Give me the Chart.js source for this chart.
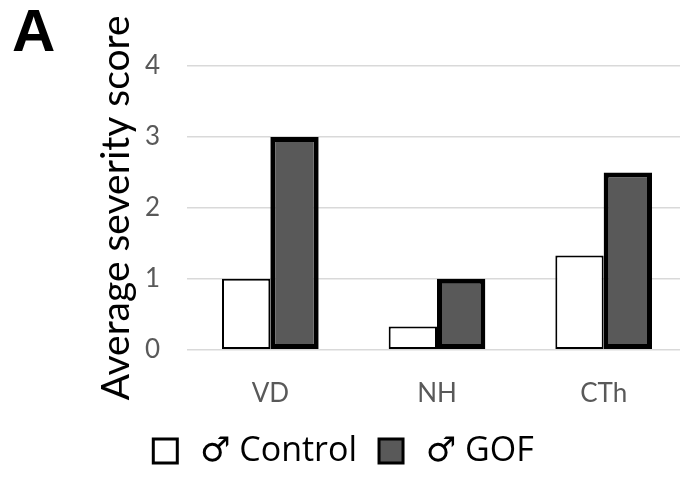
<!DOCTYPE html>
<html>
<head>
<meta charset="utf-8">
<script src="https://cdn.jsdelivr.net/npm/chart.js@4"></script>
<style>
  html, body { margin: 0; padding: 0; background: #fff; overflow: hidden; }
  #wrap { position: relative; width: 700px; height: 477px; }
  #panel {
    position: absolute; left: 12px; top: -4px;
    font: bold 60px "Liberation Sans", Arial, sans-serif; color: #000;
  }
</style>
</head>
<body>
<div id="wrap">
  <canvas id="grafico" width="700" height="477"></canvas>
  <div id="panel">A</div>
</div>
<script>
// datos
const categorias = ["VD", "NH", "CTh"];
const valoresControl = [1, 0.33, 1.33];
const valoresGOF = [3, 1, 2.5];
const ticksY = [0, 1, 2, 3, 4];

const FUENTE = "Lato, 'Open Sans', sans-serif";

const ctx = document.getElementById("grafico").getContext("2d");

new Chart(ctx, {
    type: "bar",
    data: {
        labels: categorias,
        datasets: [
            {
                label: "\u2642 Control",
                data: valoresControl,
                backgroundColor: "#ffffff",
                borderColor: "#000000",
                borderWidth: 2,
                borderSkipped: false
            },
            {
                label: "\u2642 GOF",
                data: valoresGOF,
                backgroundColor: "#595959",
                borderColor: "#000000",
                borderWidth: 5,
                borderSkipped: false
            }
        ]
    },
    options: {
        responsive: false,
        animation: false,
        layout: { padding: { left: 0, top: 66, right: 13, bottom: -1 } },
        datasets: { bar: { categoryPercentage: 0.58, barPercentage: 1 } },
        plugins: {
            tooltip: { enabled: false },
            legend: {
                position: "bottom",
                labels: {
                    color: "#000",
                    font: { family: "'Open Sans', 'DejaVu Sans', sans-serif", size: 34 },
                    boxWidth: 24,
                    boxHeight: 24,
                    padding: 5,
                    generateLabels: (chart) => {
                        const items = Chart.defaults.plugins.legend.labels.generateLabels(chart);
                        items.forEach((it, i) => {
                            it.lineWidth = 3;
                            it.text = "\u2009" + it.text;
                            if (i < items.length - 1) it.text += "\u2002";
                        });
                        return items;
                    }
                }
            }
        },
        scales: {
            x: {
                grid: { display: false },
                border: { display: false },
                ticks: { color: "#595959", font: { family: FUENTE, size: 26 }, padding: 20 }
            },
            y: {
                min: 0,
                max: 4,
                afterBuildTicks: (axis) => { axis.ticks = ticksY.map(v => ({ value: v })); },
                afterFit: (axis) => { axis.width = 187; },
                grid: { color: "#d9d9d9", lineWidth: 1.5, drawTicks: false },
                border: { display: false },
                ticks: { color: "#595959", font: { family: FUENTE, size: 26 }, padding: 27 },
                title: {
                    display: true,
                    text: "Average severity score",
                    color: "#000",
                    font: { family: FUENTE, size: 39 },
                    padding: { top: 93, bottom: 0 }
                }
            }
        }
    }
});
</script>
</body>
</html>
